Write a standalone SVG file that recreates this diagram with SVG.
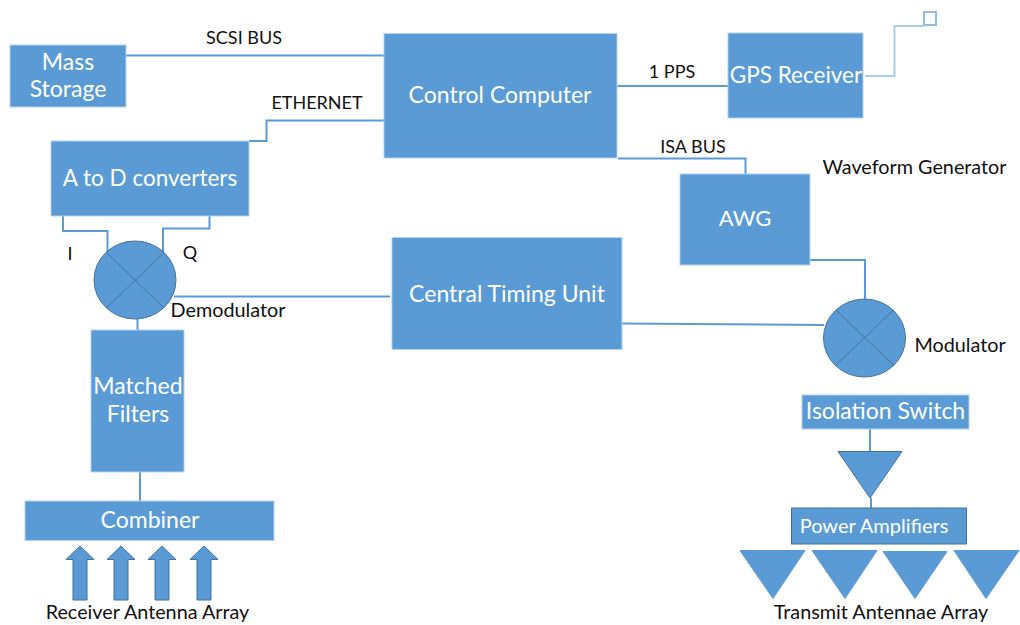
<svg xmlns="http://www.w3.org/2000/svg" width="1020" height="625" viewBox="0 0 1020 625">
<style>
text{font-family:Lato,"Open Sans","Liberation Sans",sans-serif;text-anchor:middle}
.box{fill:#5b9bd5;stroke:#b5d0ea;stroke-width:1}
.wt{fill:#fff;font-size:23px}
.bk{fill:#111;font-size:18px}
.bl{fill:#111;font-size:19.800px}
.c{fill:none;stroke:#5b9bd5;stroke-width:2}
.sym{fill:#5b9bd5;stroke:#41719c;stroke-width:1}
.tri{fill:#5b9bd5;stroke:#5b9bd5;stroke-width:1}
.x{stroke:#41719c;stroke-width:1;fill:none}
</style>
<rect width="1020" height="625" fill="#fff"/>
<g id="connectors">
<path class="c" d="M126 55.500H384"/>
<path class="c" d="M249 141H266.500V120.500H384"/>
<path class="c" d="M63 216V231H107.500V252"/>
<path class="c" d="M209.500 216V228.500H163V252"/>
<path class="c" d="M174 296.500H390"/>
<path class="c" d="M137.500 319V330"/>
<path class="c" d="M140 472V501"/>
<path class="c" d="M617 86H728"/>
<path class="c" style="stroke:#a9cdec" d="M865 76H894.500V26H924"/>
<rect class="c" style="stroke:#8fbde6" x="924" y="12" width="12" height="13"/>
<path class="c" d="M618 158.500H745.500V174"/>
<path class="c" d="M810 260H865V299"/>
<path class="c" d="M622 323.500L824 325"/>
<path class="c" d="M870 429V452"/>
<path class="c" d="M871 498V508"/>
</g>
<g id="mass-storage"><rect class="box" x="10" y="45" width="116" height="62"/><text class="wt" x="68" y="70">Mass</text><text class="wt" x="68" y="97">Storage</text></g>
<g id="control-computer"><rect class="box" x="384" y="33.500" width="233" height="124.500"/><text class="wt" x="500" y="103">Control Computer</text></g>
<g id="gps-receiver"><rect class="box" x="728" y="33" width="135" height="85"/><text class="wt" x="796" y="83" style="font-size:22.500px">GPS Receiver</text></g>
<g id="awg"><rect class="box" x="680" y="174" width="130" height="91"/><text class="wt" x="745" y="226" style="font-size:22px">AWG</text></g>
<g id="central-timing-unit"><rect class="box" x="392" y="237.500" width="230" height="112"/><text class="wt" x="507" y="302">Central Timing Unit</text></g>
<g id="a-to-d"><rect class="box" x="51" y="141" width="198" height="75"/><text class="wt" x="150" y="186" style="font-size:22.500px">A to D converters</text></g>
<g id="demodulator"><ellipse class="sym" cx="135" cy="280" rx="41" ry="39"/><path class="x" d="M106.500 252.500L164 308M164 252.500L106.500 308"/></g>
<g id="matched-filters"><rect class="box" x="91" y="330" width="93" height="142"/><text class="wt" x="138" y="394">Matched</text><text class="wt" x="138" y="422">Filters</text></g>
<g id="combiner"><rect class="box" x="25" y="501" width="249" height="39.500"/><text class="wt" x="150" y="528">Combiner</text></g>
<g id="rx-antennas">
<path class="sym" d="M66 559.500L80 546L94 559.500H87V600H73V559.500Z"/>
<path class="sym" d="M107 559.500L121 546L135 559.500H128V600H114V559.500Z"/>
<path class="sym" d="M148 559.500L162 546L176 559.500H169V600H155V559.500Z"/>
<path class="sym" d="M190 559.500L204 546L218 559.500H211V600H197V559.500Z"/>
</g>
<g id="modulator"><ellipse class="sym" cx="864.500" cy="338" rx="41" ry="39"/><path class="x" d="M836 310L893.500 365M893.500 310L836 365"/></g>
<g id="isolation-switch"><rect class="box" x="802" y="395" width="167" height="34"/><text class="wt" x="885.500" y="419">Isolation Switch</text></g>
<g id="amp-triangle"><path class="sym" d="M838 451.500H902L870 498Z"/></g>
<g id="power-amplifiers"><rect x="791.500" y="508" width="175" height="36" fill="#5b9bd5" stroke="#41719c"/><text x="874" y="533" fill="#fff" style="font-size:20px">Power Amplifiers</text></g>
<g id="tx-antennas">
<path class="tri" d="M740 550.500H805L773 598.500Z"/>
<path class="tri" d="M812 550.500H877L845 598.500Z"/>
<path class="tri" d="M883 551.500H947L915 598.500Z"/>
<path class="tri" d="M954 550.500H1019L986 598.500Z"/>
</g>
<g id="labels">
<text class="bk" x="244" y="44">SCSI BUS</text>
<text class="bk" x="317" y="109">ETHERNET</text>
<text class="bk" x="672" y="78">1 PPS</text>
<text class="bk" x="693" y="153">ISA BUS</text>
<text class="bl" x="914.500" y="174">Waveform Generator</text>
<text class="bk" x="70" y="260">I</text>
<text class="bk" x="190" y="259">Q</text>
<text class="bl" x="228" y="317">Demodulator</text>
<text class="bl" x="960" y="352">Modulator</text>
<text class="bl" x="147.500" y="619">Receiver Antenna Array</text>
<text class="bl" x="881" y="619">Transmit Antennae Array</text>
</g>
</svg>
